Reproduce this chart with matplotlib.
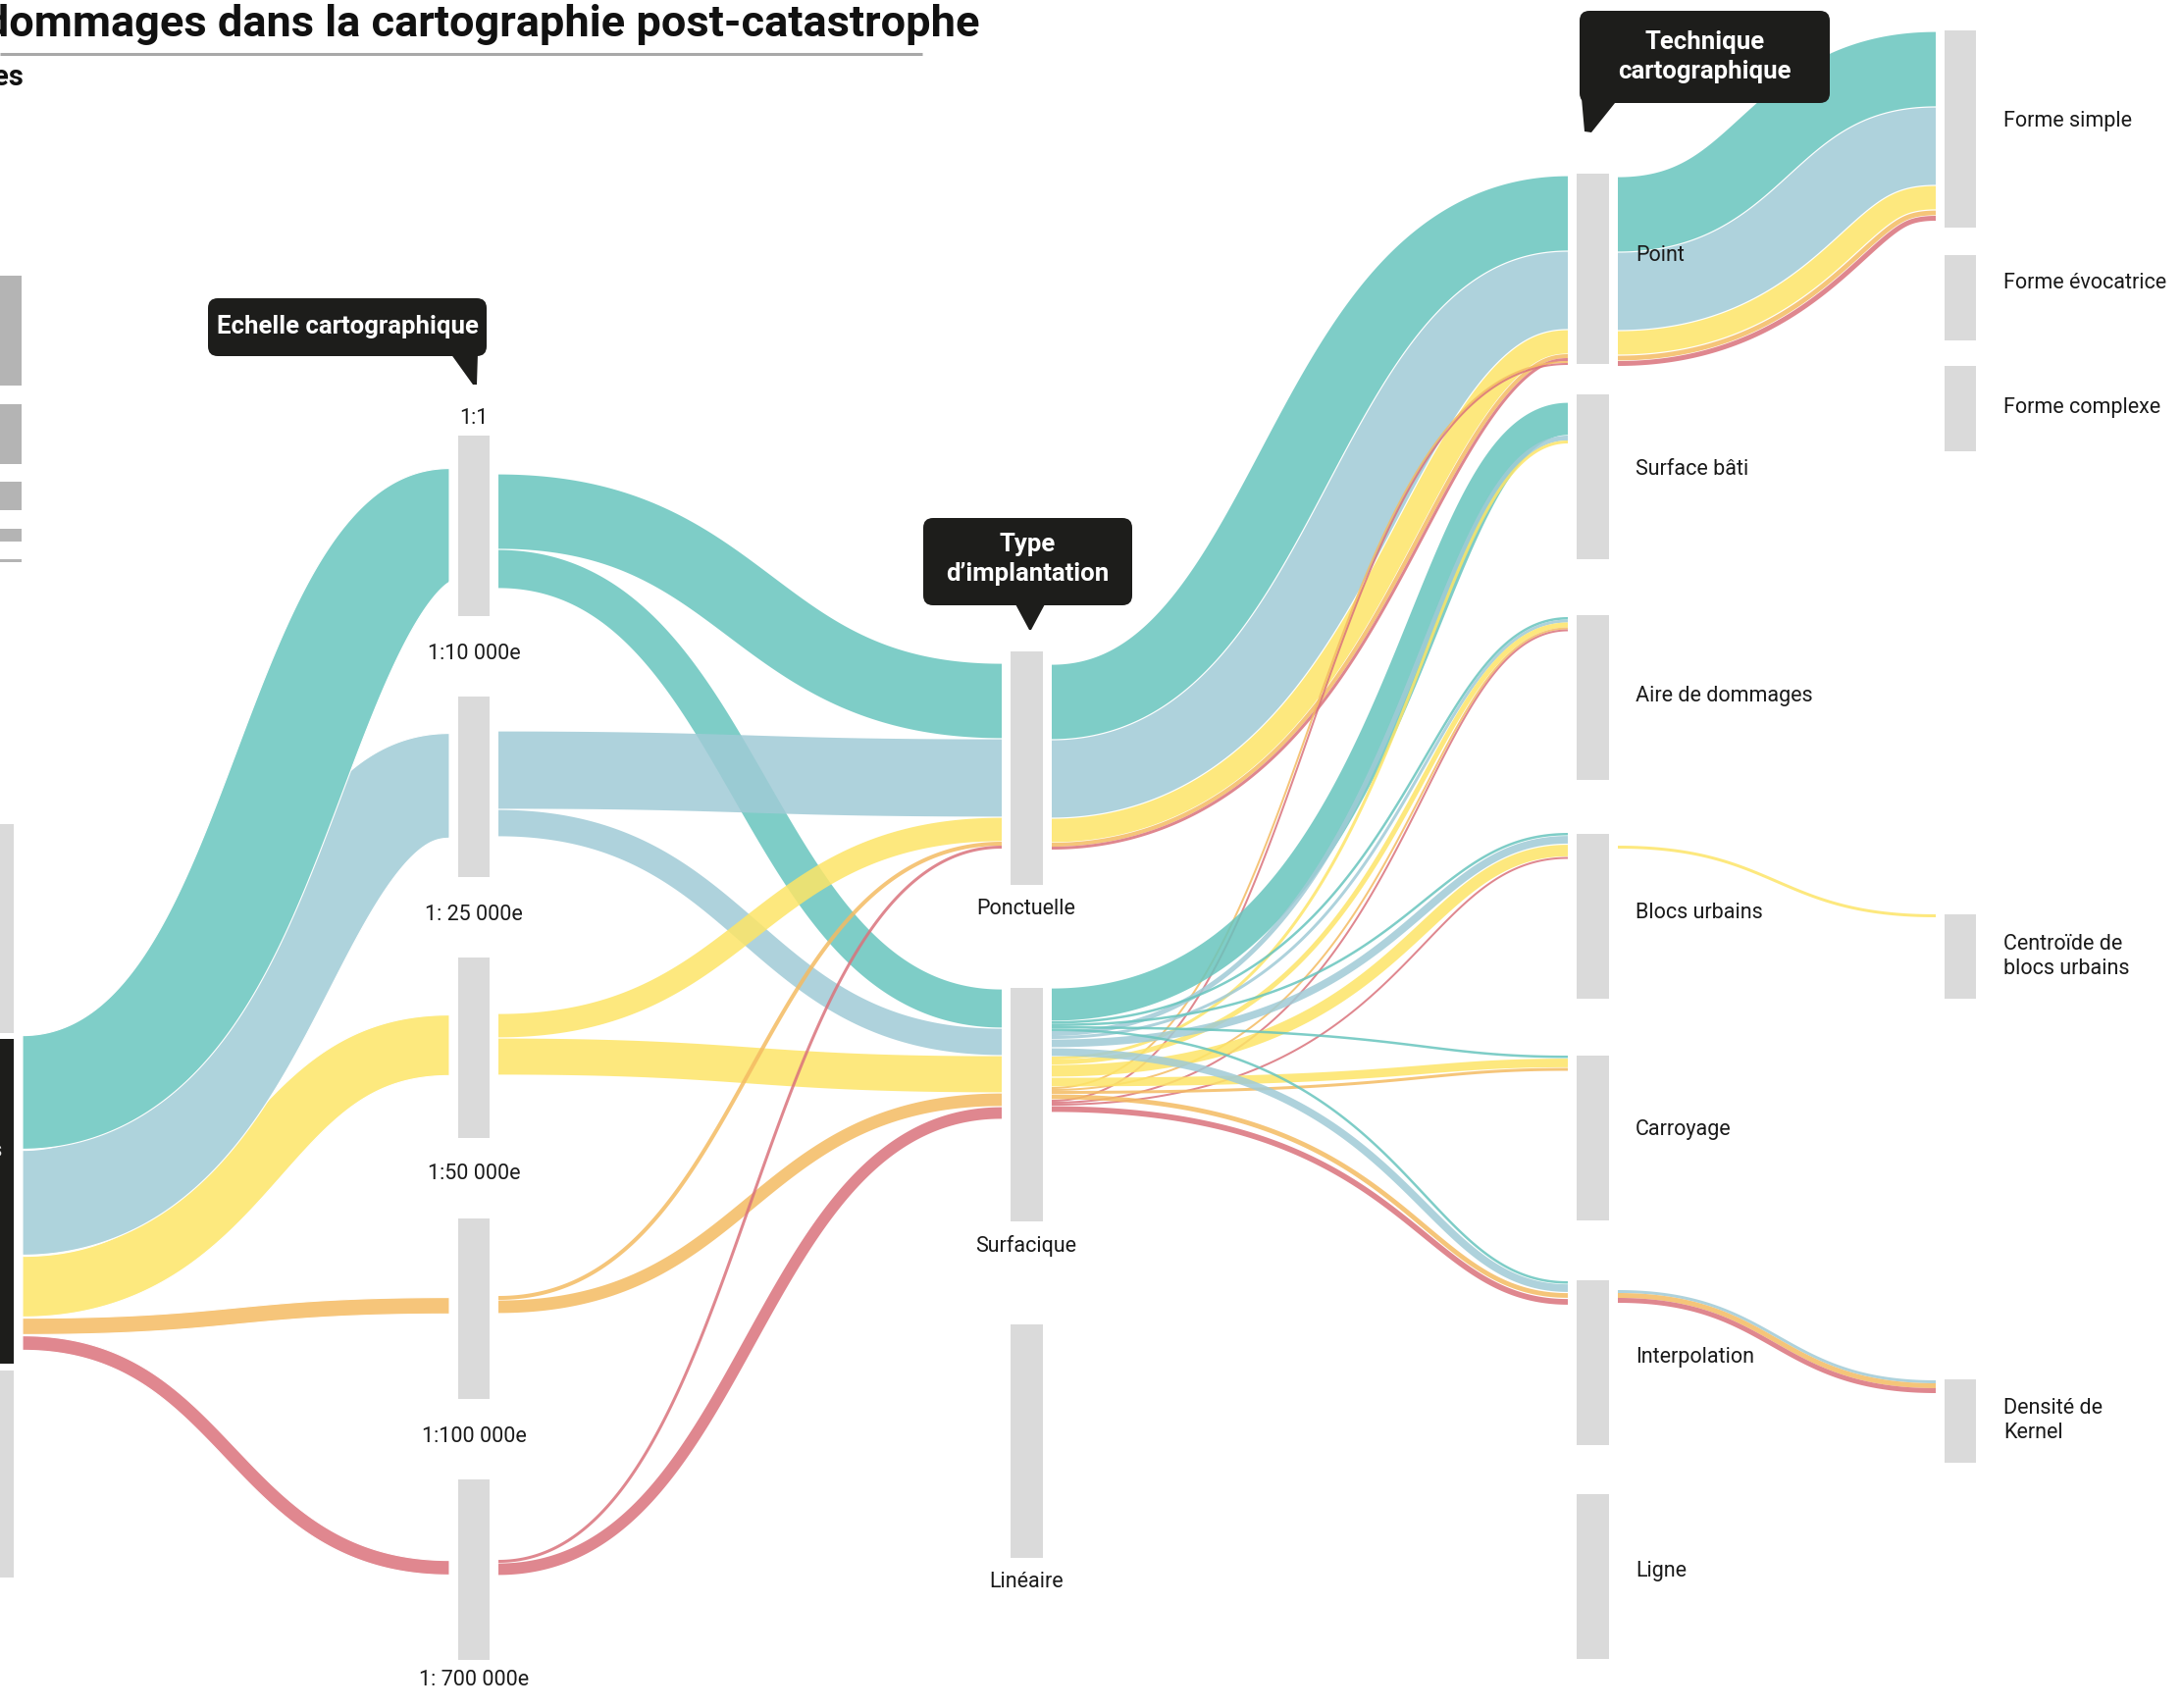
import matplotlib
matplotlib.use("Agg")
import numpy as np
import matplotlib.pyplot as plt
from matplotlib.colors import to_rgb
from matplotlib.patches import Rectangle, FancyBboxPatch, Polygon
from collections import defaultdict

plt.rcParams["font.family"] = ["Roboto", "DejaVu Sans"]

W, H, DPI = 2224, 1741, 100

# colours of the five damage categories (left column, top to bottom)
cat_colors = ["#68c5be", "#a0cbd6", "#fde567", "#f4bb62", "#da727b"]
flow_alpha = 0.85
node_grey = "#dadada"
dark = "#1d1d1b"

# ---- nodes -------------------------------------------------------------
scale_marks = ["1:1", "1:10 000e", "1: 25 000e", "1:50 000e", "1:100 000e", "1: 700 000e"]
scale_nodes = ["e1", "e2", "e3", "e4", "e5"]
implantations = ["Ponctuelle", "Surfacique", "Linéaire"]
techniques = ["Point", "Surface bâti", "Aire de dommages", "Blocs urbains",
              "Carroyage", "Interpolation", "Ligne"]
rendus = ["Forme simple", "Forme évocatrice", "Forme complexe",
          "Centroïde de\nblocs urbains", "Densité de\nKernel"]
sources = ["src_a", "src", "src_c"]

col_x = [0, 467, 1030, 1607, 1982]
col_w = [14, 32, 33, 33, 32]
gap = 9

node_col, node_top, node_h = {}, {}, {}
def add_nodes(names, col, tops, heights):
    for n, t, h in zip(names, tops, heights):
        node_col[n], node_top[n], node_h[n] = col, t, h

add_nodes(sources, 0, [840, 1059, 1397], [213, 331, 211])
add_nodes(scale_nodes, 1, [444, 710, 976, 1242, 1508], [184] * 5)
add_nodes(implantations, 2, [664, 1007, 1350], [238] * 3)
add_nodes(techniques, 3, [177, 402, 627, 850, 1076, 1305, 1523], [194] + [168] * 6)
add_nodes(rendus, 4, [31, 260, 373, 932, 1406], [201, 87, 87, 86, 85])

# where the stacked ribbons start on each side of a node
out_port = {"src": 1055, "e1": 483, "e2": 745, "e3": 1033, "e4": 1321, "e5": 1590,
            "Ponctuelle": 677, "Surfacique": 1007, "Point": 180,
            "Blocs urbains": 862, "Interpolation": 1315}
in_port = {"e1": 477, "e2": 747, "e3": 1034, "e4": 1322, "e5": 1590,
           "Ponctuelle": 676, "Surfacique": 1008, "Point": 179, "Surface bâti": 410,
           "Aire de dommages": 629, "Blocs urbains": 849, "Carroyage": 1076,
           "Interpolation": 1306, "Forme simple": 32,
           "Centroïde de\nblocs urbains": 932, "Densité de\nKernel": 1407}

# ---- flows: source, target, category, width ----------------------------
links = [
    ("src", "e1", 0, 117), ("src", "e2", 1, 108), ("src", "e3", 2, 63),
    ("src", "e4", 3, 18), ("src", "e5", 4, 16),

    ("e1", "Ponctuelle", 0, 77), ("e1", "Surfacique", 0, 40),
    ("e2", "Ponctuelle", 1, 80), ("e2", "Surfacique", 1, 28),
    ("e3", "Ponctuelle", 2, 25), ("e3", "Surfacique", 2, 38),
    ("e4", "Ponctuelle", 3, 4), ("e4", "Surfacique", 3, 14),
    ("e5", "Ponctuelle", 4, 3), ("e5", "Surfacique", 4, 13),

    ("Ponctuelle", "Point", 0, 77), ("Ponctuelle", "Point", 1, 80),
    ("Ponctuelle", "Point", 2, 25), ("Ponctuelle", "Point", 3, 4),
    ("Ponctuelle", "Point", 4, 3),
    ("Surfacique", "Point", 3, 2), ("Surfacique", "Point", 4, 2),
    ("Surfacique", "Surface bâti", 0, 34), ("Surfacique", "Surface bâti", 1, 5),
    ("Surfacique", "Surface bâti", 2, 3),
    ("Surfacique", "Aire de dommages", 0, 2.5), ("Surfacique", "Aire de dommages", 1, 3),
    ("Surfacique", "Aire de dommages", 2, 5), ("Surfacique", "Aire de dommages", 3, 2),
    ("Surfacique", "Aire de dommages", 4, 2),
    ("Surfacique", "Blocs urbains", 0, 2.5), ("Surfacique", "Blocs urbains", 1, 9),
    ("Surfacique", "Blocs urbains", 2, 13), ("Surfacique", "Blocs urbains", 4, 2),
    ("Surfacique", "Carroyage", 0, 2.5), ("Surfacique", "Carroyage", 2, 10),
    ("Surfacique", "Carroyage", 3, 3),
    ("Surfacique", "Interpolation", 0, 2.5), ("Surfacique", "Interpolation", 1, 9),
    ("Surfacique", "Interpolation", 3, 6), ("Surfacique", "Interpolation", 4, 7),

    ("Point", "Forme simple", 0, 77), ("Point", "Forme simple", 1, 80),
    ("Point", "Forme simple", 2, 25), ("Point", "Forme simple", 3, 6),
    ("Point", "Forme simple", 4, 5),
    ("Blocs urbains", "Centroïde de\nblocs urbains", 2, 3),
    ("Interpolation", "Densité de\nKernel", 1, 3),
    ("Interpolation", "Densité de\nKernel", 3, 5),
    ("Interpolation", "Densité de\nKernel", 4, 5),
]

# the ribbons fanning out of "Surfacique" turn late, close to their target
late_bend = 0.7
late_targets = ["Surface bâti", "Aire de dommages", "Blocs urbains",
                "Carroyage", "Interpolation"]

# stack ribbons on each node side
outs, ins = defaultdict(list), defaultdict(list)
for i, (s, t, c, v) in enumerate(links):
    outs[s].append(i)
    ins[t].append(i)
y_src, y_tgt = {}, {}
for n, idx in outs.items():
    idx.sort(key=lambda i: (links[i][2], node_top[links[i][1]]))
    y = out_port[n]
    for i in idx:
        y_src[i] = y
        y += links[i][3]
for n, idx in ins.items():
    idx.sort(key=lambda i: (node_top[links[i][0]], links[i][2]))
    y = in_port[n]
    for i in idx:
        y_tgt[i] = y
        y += links[i][3]

# links sharing both ends and lying side by side travel as one bundle:
# they are offset perpendicular to a common spine so they never overlap
groups = defaultdict(list)
for i, (s, t, c, v) in enumerate(links):
    groups[(s, t)].append(i)
bundles = []
for (s, t), idx in groups.items():
    idx.sort(key=lambda i: y_src[i])
    span = y_src[idx[-1]] + links[idx[-1]][3] - y_src[idx[0]]
    if abs(span - sum(links[i][3] for i in idx)) < 0.01:
        bundles.append(idx)
    else:
        bundles.extend([[i] for i in idx])

# the wide fan leaving the left column is painted flat, lowest first,
# so its ribbons sit on each other instead of mixing
fan = sorted([b for b in bundles if links[b[0]][0] == "src"],
             key=lambda b: -y_src[b[0]])
rest = [b for b in bundles if links[b[0]][0] != "src"]

fig = plt.figure(figsize=(W / DPI, H / DPI), dpi=DPI)
ax = fig.add_axes([0, 0, 1, 1])
ax.set_xlim(0, W)
ax.set_ylim(H, 0)
ax.axis("off")

t = np.linspace(0, 1, 300)[:, None]
def draw_bundle(idx, anchor, flat=False):
    # anchor: where the spine sits across the bundle (0 = top edge, 0.5 = middle)
    s, tg = links[idx[0]][0], links[idx[0]][1]
    x0 = col_x[node_col[s]] + col_w[node_col[s]] + gap
    x1 = col_x[node_col[tg]] - gap
    a = anchor * sum(links[i][3] for i in idx)
    ya, yb = y_src[idx[0]] + a, y_tgt[idx[0]] + a
    f = late_bend if (s == "Surfacique" and tg in late_targets) else 0.5
    xc = x0 + f * (x1 - x0)
    P = np.array([[x0, ya], [xc, ya], [xc, yb], [x1, yb]])
    pts = ((1 - t) ** 3) * P[0] + 3 * ((1 - t) ** 2) * t * P[1] \
        + 3 * (1 - t) * t ** 2 * P[2] + t ** 3 * P[3]
    d = 3 * ((1 - t) ** 2) * (P[1] - P[0]) + 6 * (1 - t) * t * (P[2] - P[1]) \
        + 3 * t ** 2 * (P[3] - P[2])
    nrm = np.column_stack([-d[:, 1], d[:, 0]]) / np.hypot(d[:, 0], d[:, 1])[:, None]
    for i in idx:
        w = links[i][3]
        o = y_src[i] - y_src[idx[0]] - a
        inset = 0.6 if w > 5 else 0.0
        top = pts + nrm * (o + inset)
        bot = pts + nrm * (o + w - inset)
        poly = np.vstack([top, bot[::-1]])
        base = np.array(to_rgb(cat_colors[links[i][2]]))
        if flat:
            fc = base * flow_alpha + (1 - flow_alpha)
            ax.add_patch(Polygon(poly, closed=True, facecolor=fc,
                                 edgecolor="white", lw=0.8))
        else:
            ax.add_patch(Polygon(poly, closed=True, facecolor=base,
                                 alpha=flow_alpha, edgecolor="none"))

for b in fan:
    draw_bundle(b, 0.0, flat=True)
for b in rest:
    draw_bundle(b, 0.3 if len(b) > 1 else 0.5)

for n in node_col:
    c = node_col[n]
    fc = dark if n == "src" else node_grey
    ax.add_patch(Rectangle((col_x[c], node_top[n]), col_w[c], node_h[n],
                           facecolor=fc, edgecolor="none"))

# size key in the top left corner
key_sizes = [112, 61, 29, 13, 3]
y = 281
for h in key_sizes:
    ax.add_patch(Rectangle((0, y), 22, h, facecolor="#b4b4b4", edgecolor="none"))
    y += h + 18.5

# ---- labels ------------------------------------------------------------
lab = dict(fontsize=15.5, color="#1a1a1a")
scale_label_y = [427, 667, 932, 1196, 1464, 1712]
for txt, yy in zip(scale_marks, scale_label_y):
    ax.text(483, yy, txt, ha="center", va="center", **lab)
for n in implantations:
    ax.text(1046, node_top[n] + node_h[n] + 25, n, ha="center", va="center", **lab)
tech_label_y = [261, 478, 710, 930, 1151, 1384, 1601]
for n, yy in zip(techniques, tech_label_y):
    ax.text(1667, yy, n, ha="left", va="center", **lab)
rendu_label_y = [123, 288, 416, 975, 1448]
for n, yy in zip(rendus, rendu_label_y):
    ax.text(2042, yy, n, ha="left", va="center", linespacing=1.25, **lab)

ax.text(3, 1174, "Dommages", ha="right", va="center", color="#e8e8e8", fontsize=15.5)

# title and subtitle (run off the left edge)
ax.text(998, 37, "Représentation des dommages dans la cartographie post-catastrophe",
        ha="right", va="baseline", fontsize=32.5, fontweight="bold", color="#111111")
ax.plot([0, 940], [55, 55], color="#a8a8a8", lw=2.2, solid_capstyle="butt")
ax.text(25, 87, "Variables", ha="right", va="baseline", fontsize=21,
        fontweight="bold", color="#111111")

# callouts
def callout(x0, y0, x1, y1, tail, text, ty):
    ax.add_patch(FancyBboxPatch((x0, y0), x1 - x0, y1 - y0,
                                boxstyle="round,pad=0,rounding_size=10",
                                facecolor=dark, edgecolor="none"))
    ax.add_patch(Polygon(tail, closed=True, facecolor=dark, edgecolor="none"))
    ax.text((x0 + x1) / 2, ty, text, ha="center", va="center", color="white",
            fontsize=18.5, fontweight="bold", linespacing=1.35)

callout(212, 304, 496, 363, [(459, 360), (487, 360), (486, 392), (482, 392)],
        "Echelle cartographique", 333)
callout(941, 528, 1154, 617, [(1034, 614), (1066, 614), (1051, 642), (1049, 642)],
        "Type\nd’implantation", 570)
callout(1610, 11, 1865, 105, [(1612, 100), (1650, 100), (1622, 135), (1615, 134)],
        "Technique\ncartographique", 58)

fig.savefig("out.png", dpi=DPI)
